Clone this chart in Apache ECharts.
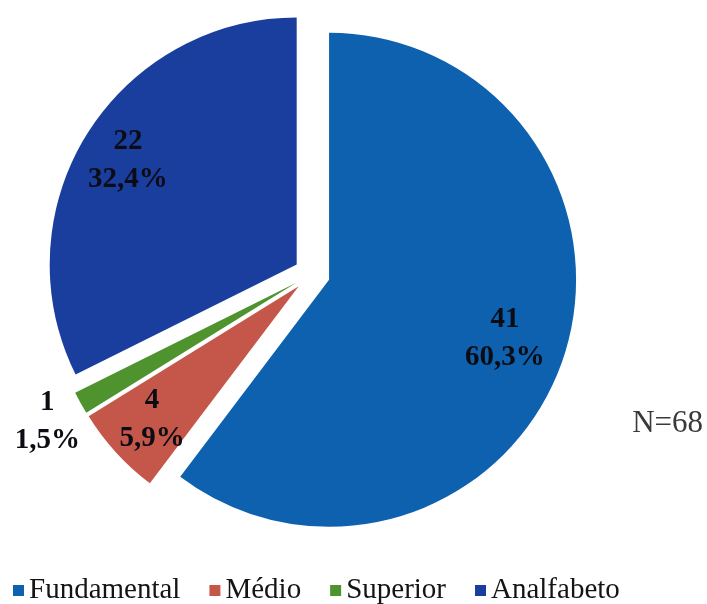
<!DOCTYPE html>
<html>
<head>
<meta charset="utf-8">
<script src="https://cdn.jsdelivr.net/npm/echarts@6/dist/echarts.min.js"></script>
<style>
  html, body { margin: 0; padding: 0; background: #ffffff; }
  #chart { width: 707px; height: 604px; }
</style>
</head>
<body>
<div id="chart"></div>
<script>
// Escolaridade (N=68)
const categories = ['Fundamental', 'Médio', 'Superior', 'Analfabeto'];
const counts = [41, 4, 1, 22];
const percentLabels = ['60,3%', '5,9%', '1,5%', '32,4%'];
const sliceColors = ['#0d61af', '#c5574a', '#4f932f', '#1a3e9e'];
const totalLabel = 'N=68';

const serif = '"Liberation Serif", "Times New Roman", serif';
const pieCenter = [312, 274];
const pieRadius = 247;
const explode = 18;

// which label ring each category's label sits on
const labelRing = { Fundamental: 'near', 'Médio': 'mid', Analfabeto: 'mid', Superior: 'far' };

function slices(withColor, ring) {
  return categories.map((name, i) => ({
    name: name,
    value: counts[i],
    selected: true,
    itemStyle: { color: withColor ? sliceColors[i] : 'rgba(0,0,0,0)' },
    label: { show: ring ? labelRing[name] === ring : false }
  }));
}

const labelText = {
  show: true,
  position: 'inside',
  rotate: 0,
  fontFamily: serif,
  fontWeight: 'bold',
  fontSize: 29,
  lineHeight: 38,
  color: '#0c0c14',
  formatter: p => p.value + '\n' + percentLabels[p.dataIndex]
};

// transparent ring used only to place labels
function labelSeries(ring, inner, outer) {
  return {
    type: 'pie',
    center: pieCenter,
    radius: [inner, outer],
    startAngle: 90,
    clockwise: true,
    selectedMode: 'multiple',
    selectedOffset: explode,
    silent: true,
    label: labelText,
    labelLine: { show: false },
    itemStyle: { borderWidth: 0 },
    data: slices(false, ring)
  };
}

const chart = echarts.init(document.getElementById('chart'), null, { renderer: 'canvas' });
chart.setOption({
  animation: false,
  backgroundColor: '#ffffff',
  title: {
    text: totalLabel,
    right: 4,
    top: 408,
    padding: 0,
    textStyle: { fontFamily: serif, fontWeight: 'normal', fontSize: 31, color: '#3a3a3a' }
  },
  legend: {
    data: categories,
    left: 13,
    top: 576,
    padding: 0,
    icon: 'rect',
    itemWidth: 11,
    itemHeight: 11,
    itemGap: 29,
    selectedMode: false,
    textStyle: { fontFamily: serif, fontSize: 29, lineHeight: 29, color: '#141414' }
  },
  series: [
    {
      type: 'pie',
      center: pieCenter,
      radius: [0, pieRadius],
      startAngle: 90,
      clockwise: true,
      selectedMode: 'multiple',
      selectedOffset: explode,
      silent: true,
      label: { show: false },
      labelLine: { show: false },
      itemStyle: { borderWidth: 0 },
      data: slices(true, null)
    },
    labelSeries('near', 118, pieRadius),
    labelSeries('mid', 144, pieRadius),
    labelSeries('far', 272, 292)
  ]
});
</script>
</body>
</html>
